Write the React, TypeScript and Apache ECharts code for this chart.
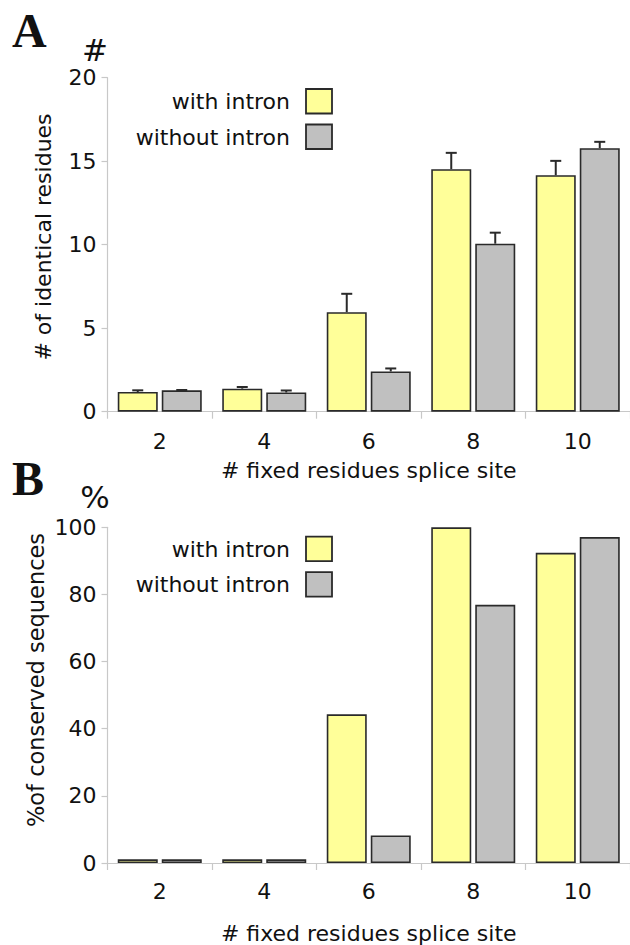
import React, { useEffect, useRef } from "react";
import * as echarts from "echarts";

// ---- data ----
const categories = ["2", "4", "6", "8", "10"];
const seriesNames = ["with intron", "without intron"];
// Panel A: # of identical residues (mean, upper error)
const identWithIntron = [1.18, 1.38, 5.96, 14.52, 14.16];
const identWithIntronErr = [0.1, 0.1, 1.1, 0.98, 0.86];
const identWithoutIntron = [1.28, 1.15, 2.41, 10.06, 15.78];
const identWithoutIntronErr = [0.02, 0.12, 0.18, 0.66, 0.38];
// Panel B: % of conserved sequences
const consWithIntron = [1.1, 1.1, 44.3, 100, 92.4];
const consWithoutIntron = [1.1, 1.1, 8.2, 76.9, 97.1];
const yTicksA = { min: 0, max: 20, interval: 5 };
const yTicksB = { min: 0, max: 100, interval: 20 };

// ---- style ----
const FONT = "'DejaVu Sans', sans-serif";
const YELLOW = "#FFFF99";
const GRAY = "#C0C0C0";
const BORDER = "#2a2a2a";
const AXIS = "#c8c8c8";
const BAR_W = 40;
const BAR_GAP = 4;

function txt(text: string, x: number, y: number, size: number, opts: any = {}) {
  const align = opts.align || "left";
  const valign = opts.valign || "middle";
  return {
    type: "text",
    x,
    y,
    rotation: opts.rotation || 0,
    silent: true,
    style: {
      text,
      x: 0,
      y: 0,
      fill: "#111",
      fontSize: size,
      fontFamily: opts.family || FONT,
      fontWeight: opts.weight || "normal",
      align,
      verticalAlign: valign,
      textAlign: align,
      textVerticalAlign: valign,
    },
  };
}

function legend(topY: number) {
  const items: any[] = [];
  const colors = [YELLOW, GRAY];
  seriesNames.forEach((n, i) => {
    const y0 = topY + i * 35.5;
    items.push({
      type: "rect",
      silent: true,
      shape: { x: 306, y: y0, width: 26, height: 24.5 },
      style: { fill: colors[i], stroke: BORDER, lineWidth: 1.8 },
    });
    items.push(txt(n, 290, y0 + 12.5, 22, { align: "right" }));
  });
  return items;
}

function errorSeries(means: number[], errs: number[], offset: number) {
  return {
    type: "custom",
    xAxisIndex: 0,
    yAxisIndex: 0,
    silent: true,
    z: 1,
    clip: false,
    data: means.map((m, i) => [i, m, m + errs[i]]),
    renderItem: (params: any, api: any) => {
      const p0 = api.coord([api.value(0), api.value(1)]);
      const p1 = api.coord([api.value(0), api.value(2)]);
      const x = p0[0] + offset;
      const st = { stroke: BORDER, lineWidth: 2 };
      return {
        type: "group",
        children: [
          { type: "line", shape: { x1: x, y1: p0[1], x2: x, y2: p1[1] }, style: st },
          { type: "line", shape: { x1: x - 5.5, y1: p1[1], x2: x + 5.5, y2: p1[1] }, style: st },
        ],
      };
    },
  };
}

function xAxis(gridIndex: number, labelMargin: number, nameGap: number) {
  return {
    type: "category",
    gridIndex,
    data: categories,
    boundaryGap: true,
    name: "# fixed residues splice site",
    nameLocation: "middle",
    nameGap,
    nameTextStyle: { fontFamily: FONT, fontSize: 22, color: "#111" },
    axisLine: { lineStyle: { color: AXIS, width: 1.2 } },
    axisTick: { show: true, length: 7, lineStyle: { color: AXIS, width: 1.2 } },
    axisLabel: { margin: labelMargin, fontFamily: FONT, fontSize: 22, color: "#111" },
    splitLine: { show: false },
  };
}

function yAxis(gridIndex: number, t: { min: number; max: number; interval: number }) {
  return {
    type: "value",
    gridIndex,
    min: t.min,
    max: t.max,
    interval: t.interval,
    axisLine: { show: true, lineStyle: { color: AXIS, width: 1.2 } },
    axisTick: { show: true, length: 6, lineStyle: { color: AXIS, width: 1.2 } },
    axisLabel: { margin: 11, fontFamily: FONT, fontSize: 22, color: "#111" },
    splitLine: { show: false },
  };
}

function barSeries(name: string, data: number[], color: string, idx: number) {
  return {
    type: "bar",
    name,
    xAxisIndex: idx,
    yAxisIndex: idx,
    data,
    barWidth: BAR_W,
    barGap: (BAR_GAP / BAR_W) * 100 + "%",
    z: 2,
    itemStyle: { color, borderColor: BORDER, borderWidth: 1.6 },
  };
}

export default function App() {
  const ref = useRef<HTMLDivElement>(null);
  useEffect(() => {
    if (!ref.current) return;
    const chart = echarts.init(ref.current, null, { renderer: "svg" });
    const off = (BAR_W + BAR_GAP) / 2;
    const option: any = {
      animation: false,
      backgroundColor: "#fff",
      grid: [
        { left: 107.5, top: 77.7, width: 527, height: 334 },
        { left: 107.5, top: 527.3, width: 522.5, height: 336 },
      ],
      xAxis: [xAxis(0, 19, 48), xAxis(1, 17, 59)],
      yAxis: [yAxis(0, yTicksA), yAxis(1, yTicksB)],
      series: [
        errorSeries(identWithIntron, identWithIntronErr, -off),
        errorSeries(identWithoutIntron, identWithoutIntronErr, off),
        barSeries(seriesNames[0], identWithIntron, YELLOW, 0),
        barSeries(seriesNames[1], identWithoutIntron, GRAY, 0),
        barSeries(seriesNames[0], consWithIntron, YELLOW, 1),
        barSeries(seriesNames[1], consWithoutIntron, GRAY, 1),
      ],
      graphic: [
        txt("A", 12, 30, 48, { family: "'Liberation Serif', serif", weight: "bold" }),
        txt("B", 12, 478, 48, { family: "'Liberation Serif', serif", weight: "bold" }),
        txt("#", 95, 50, 31, { align: "center" }),
        txt("%", 95, 497, 31, { align: "center" }),
        txt("# of identical residues", 43, 237, 22, { align: "center", rotation: Math.PI / 2 }),
        txt("%of conserved sequences", 36, 680, 22.5, { align: "center", rotation: Math.PI / 2 }),
        ...legend(89),
        ...legend(536.7),
      ],
    };
    chart.setOption(option);
    return () => chart.dispose();
  }, []);
  return (
    <div
      ref={ref}
      style={{ position: "absolute", left: 0, top: 0, width: 630, height: 945, background: "#fff" }}
    />
  );
}
